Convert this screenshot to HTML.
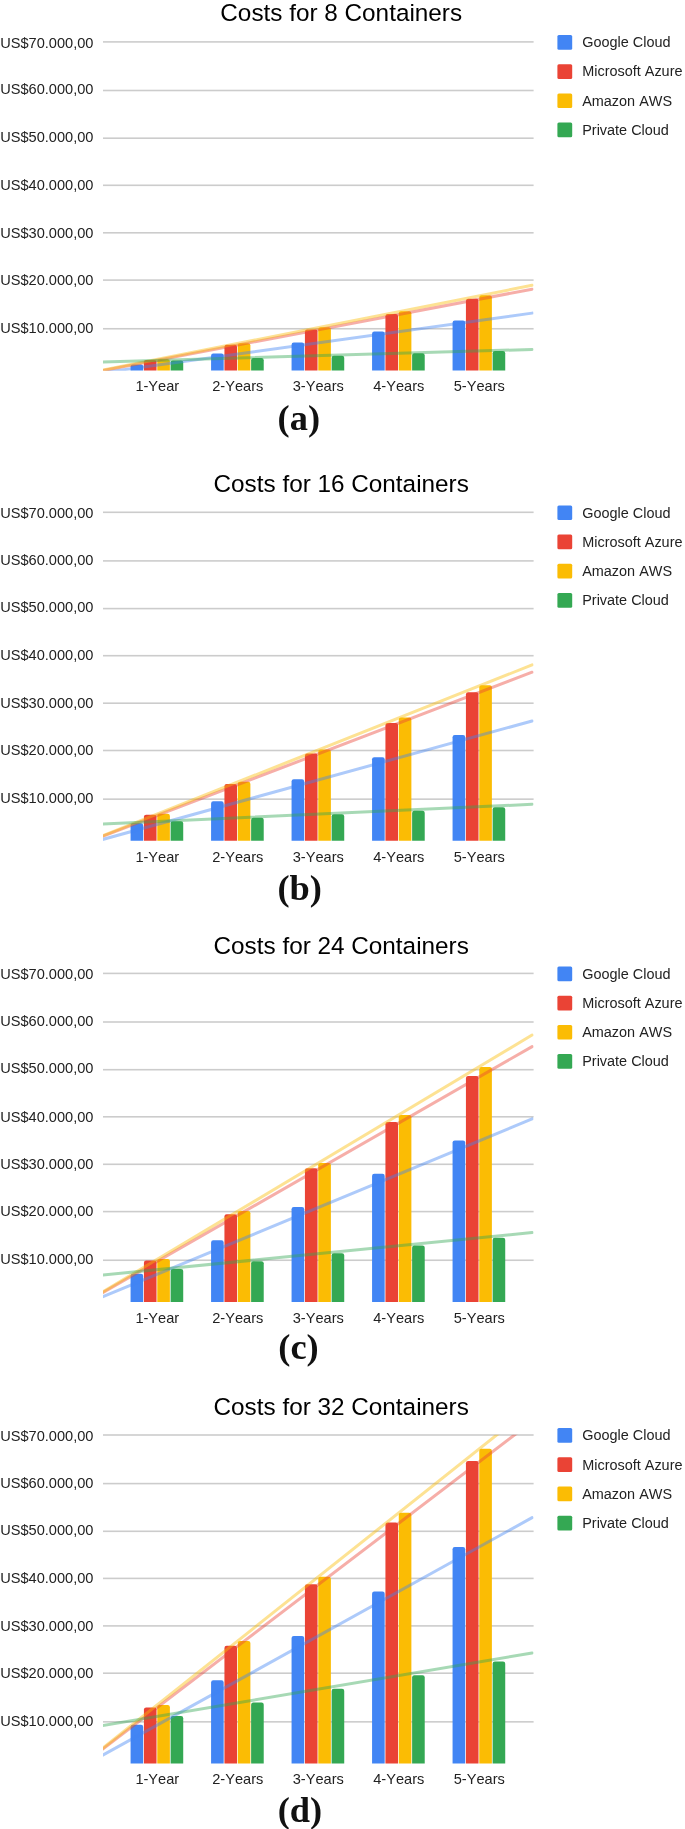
<!DOCTYPE html>
<html><head><meta charset="utf-8"><title>Costs</title>
<style>html,body{margin:0;padding:0;background:#fff;}svg{display:block;will-change:transform;}</style></head>
<body>
<svg width="685" height="1829" viewBox="0 0 685 1829" font-family="Liberation Sans, sans-serif" style="font-kerning:none">
<rect width="685" height="1829" fill="#fff"/>
<defs>
<clipPath id="cp0"><rect x="103.0" y="41.70" width="430.60" height="329.10"/></clipPath>
<clipPath id="cp1"><rect x="103.0" y="512.10" width="430.60" height="329.10"/></clipPath>
<clipPath id="cp2"><rect x="103.0" y="973.20" width="430.60" height="329.10"/></clipPath>
<clipPath id="cp3"><rect x="103.0" y="1434.80" width="430.60" height="329.10"/></clipPath>
</defs>
<g id="chart0">
<text x="341.2" y="21.30" font-size="24.3" text-anchor="middle" fill="#000">Costs for 8 Containers</text>
<rect x="103.0" y="41.10" width="430.60" height="1.6" fill="#cccccc"/>
<text x="93.5" y="47.55" font-size="14.6" text-anchor="end" fill="#222">US$70.000,00</text>
<rect x="103.0" y="89.70" width="430.60" height="1.6" fill="#cccccc"/>
<text x="93.5" y="94.44" font-size="14.6" text-anchor="end" fill="#222">US$60.000,00</text>
<rect x="103.0" y="137.40" width="430.60" height="1.6" fill="#cccccc"/>
<text x="93.5" y="141.80" font-size="14.6" text-anchor="end" fill="#222">US$50.000,00</text>
<rect x="103.0" y="184.50" width="430.60" height="1.6" fill="#cccccc"/>
<text x="93.5" y="190.00" font-size="14.6" text-anchor="end" fill="#222">US$40.000,00</text>
<rect x="103.0" y="232.00" width="430.60" height="1.6" fill="#cccccc"/>
<text x="93.5" y="237.55" font-size="14.6" text-anchor="end" fill="#222">US$30.000,00</text>
<rect x="103.0" y="279.30" width="430.60" height="1.6" fill="#cccccc"/>
<text x="93.5" y="284.85" font-size="14.6" text-anchor="end" fill="#222">US$20.000,00</text>
<rect x="103.0" y="327.95" width="430.60" height="1.6" fill="#cccccc"/>
<text x="93.5" y="332.97" font-size="14.6" text-anchor="end" fill="#222">US$10.000,00</text>
<path d="M130.58,370.40V366.61Q130.58,364.41 132.78,364.41H140.98Q143.18,364.41 143.18,366.61V370.40Z" fill="#4285F4"/>
<path d="M143.93,370.40V362.27Q143.93,360.07 146.12,360.07H154.33Q156.53,360.07 156.53,362.27V370.40Z" fill="#EA4335"/>
<path d="M157.28,370.40V361.55Q157.28,359.35 159.47,359.35H167.68Q169.88,359.35 169.88,361.55V370.40Z" fill="#FBBC04"/>
<path d="M170.62,370.40V362.60Q170.62,360.40 172.82,360.40H181.03Q183.22,360.40 183.22,362.60V370.40Z" fill="#34A853"/>
<text x="157.30" y="390.90" font-size="14.6" text-anchor="middle" fill="#222">1-Year</text>
<path d="M211.08,370.40V355.63Q211.08,353.43 213.28,353.43H221.48Q223.68,353.43 223.68,355.63V370.40Z" fill="#4285F4"/>
<path d="M224.43,370.40V346.95Q224.43,344.75 226.62,344.75H234.83Q237.03,344.75 237.03,346.95V370.40Z" fill="#EA4335"/>
<path d="M237.78,370.40V345.52Q237.78,343.32 239.97,343.32H248.18Q250.38,343.32 250.38,345.52V370.40Z" fill="#FBBC04"/>
<path d="M251.12,370.40V360.25Q251.12,358.05 253.32,358.05H261.53Q263.73,358.05 263.73,360.25V370.40Z" fill="#34A853"/>
<text x="237.80" y="390.90" font-size="14.6" text-anchor="middle" fill="#222">2-Years</text>
<path d="M291.57,370.40V344.65Q291.57,342.45 293.77,342.45H301.98Q304.18,342.45 304.18,344.65V370.40Z" fill="#4285F4"/>
<path d="M304.93,370.40V331.63Q304.93,329.43 307.12,329.43H315.33Q317.53,329.43 317.53,331.63V370.40Z" fill="#EA4335"/>
<path d="M318.27,370.40V329.48Q318.27,327.28 320.47,327.28H328.68Q330.88,327.28 330.88,329.48V370.40Z" fill="#FBBC04"/>
<path d="M331.62,370.40V357.90Q331.62,355.70 333.82,355.70H342.03Q344.23,355.70 344.23,357.90V370.40Z" fill="#34A853"/>
<text x="318.30" y="390.90" font-size="14.6" text-anchor="middle" fill="#222">3-Years</text>
<path d="M372.07,370.40V333.67Q372.07,331.47 374.27,331.47H382.48Q384.68,331.47 384.68,333.67V370.40Z" fill="#4285F4"/>
<path d="M385.43,370.40V316.31Q385.43,314.11 387.62,314.11H395.83Q398.03,314.11 398.03,316.31V370.40Z" fill="#EA4335"/>
<path d="M398.77,370.40V313.44Q398.77,311.24 400.97,311.24H409.18Q411.38,311.24 411.38,313.44V370.40Z" fill="#FBBC04"/>
<path d="M412.12,370.40V355.55Q412.12,353.35 414.32,353.35H422.53Q424.73,353.35 424.73,355.55V370.40Z" fill="#34A853"/>
<text x="398.80" y="390.90" font-size="14.6" text-anchor="middle" fill="#222">4-Years</text>
<path d="M452.57,370.40V322.69Q452.57,320.49 454.77,320.49H462.98Q465.18,320.49 465.18,322.69V370.40Z" fill="#4285F4"/>
<path d="M465.93,370.40V300.99Q465.93,298.79 468.12,298.79H476.33Q478.53,298.79 478.53,300.99V370.40Z" fill="#EA4335"/>
<path d="M479.27,370.40V297.41Q479.27,295.21 481.47,295.21H489.68Q491.88,295.21 491.88,297.41V370.40Z" fill="#FBBC04"/>
<path d="M492.62,370.40V353.19Q492.62,350.99 494.82,350.99H503.03Q505.23,350.99 505.23,353.19V370.40Z" fill="#34A853"/>
<text x="479.30" y="390.90" font-size="14.6" text-anchor="middle" fill="#222">5-Years</text>
<g clip-path="url(#cp0)">
<line x1="97.0" y1="373.44" x2="532.1" y2="313.12" stroke="#4285F4" stroke-width="3.0" stroke-opacity="0.43" stroke-linecap="round"/>
<line x1="97.0" y1="371.68" x2="532.1" y2="289.18" stroke="#EA4335" stroke-width="3.0" stroke-opacity="0.43" stroke-linecap="round"/>
<line x1="97.0" y1="371.32" x2="532.1" y2="285.29" stroke="#FBBC04" stroke-width="3.0" stroke-opacity="0.43" stroke-linecap="round"/>
<line x1="97.0" y1="362.15" x2="532.1" y2="349.44" stroke="#34A853" stroke-width="3.0" stroke-opacity="0.43" stroke-linecap="round"/>
</g>
<rect x="557.4" y="35.00" width="14.8" height="14.7" rx="1.5" fill="#4285F4"/>
<text x="582.2" y="47.20" font-size="14.45" fill="#222">Google Cloud</text>
<rect x="557.4" y="64.20" width="14.8" height="14.7" rx="1.5" fill="#EA4335"/>
<text x="582.2" y="76.40" font-size="14.45" fill="#222">Microsoft Azure</text>
<rect x="557.4" y="93.40" width="14.8" height="14.7" rx="1.5" fill="#FBBC04"/>
<text x="582.2" y="105.60" font-size="14.45" fill="#222">Amazon AWS</text>
<rect x="557.4" y="122.60" width="14.8" height="14.7" rx="1.5" fill="#34A853"/>
<text x="582.2" y="134.80" font-size="14.45" fill="#222">Private Cloud</text>
<text x="298.8" y="430.10" font-size="36.4" font-weight="bold" font-family="Liberation Serif, serif" text-anchor="middle" fill="#111">(a)</text>
</g>
<g id="chart1">
<text x="341.2" y="491.90" font-size="24.3" text-anchor="middle" fill="#000">Costs for 16 Containers</text>
<rect x="103.0" y="511.50" width="430.60" height="1.6" fill="#cccccc"/>
<text x="93.5" y="517.95" font-size="14.6" text-anchor="end" fill="#222">US$70.000,00</text>
<rect x="103.0" y="560.10" width="430.60" height="1.6" fill="#cccccc"/>
<text x="93.5" y="564.84" font-size="14.6" text-anchor="end" fill="#222">US$60.000,00</text>
<rect x="103.0" y="607.80" width="430.60" height="1.6" fill="#cccccc"/>
<text x="93.5" y="612.20" font-size="14.6" text-anchor="end" fill="#222">US$50.000,00</text>
<rect x="103.0" y="654.90" width="430.60" height="1.6" fill="#cccccc"/>
<text x="93.5" y="660.40" font-size="14.6" text-anchor="end" fill="#222">US$40.000,00</text>
<rect x="103.0" y="702.40" width="430.60" height="1.6" fill="#cccccc"/>
<text x="93.5" y="707.95" font-size="14.6" text-anchor="end" fill="#222">US$30.000,00</text>
<rect x="103.0" y="749.70" width="430.60" height="1.6" fill="#cccccc"/>
<text x="93.5" y="755.25" font-size="14.6" text-anchor="end" fill="#222">US$20.000,00</text>
<rect x="103.0" y="798.35" width="430.60" height="1.6" fill="#cccccc"/>
<text x="93.5" y="803.37" font-size="14.6" text-anchor="end" fill="#222">US$10.000,00</text>
<path d="M130.58,840.80V825.56Q130.58,823.36 132.78,823.36H140.98Q143.18,823.36 143.18,825.56V840.80Z" fill="#4285F4"/>
<path d="M143.93,840.80V816.87Q143.93,814.67 146.12,814.67H154.33Q156.53,814.67 156.53,816.87V840.80Z" fill="#EA4335"/>
<path d="M157.28,840.80V816.06Q157.28,813.86 159.47,813.86H167.68Q169.88,813.86 169.88,816.06V840.80Z" fill="#FBBC04"/>
<path d="M170.62,840.80V823.49Q170.62,821.29 172.82,821.29H181.03Q183.22,821.29 183.22,823.49V840.80Z" fill="#34A853"/>
<text x="157.30" y="862.40" font-size="14.6" text-anchor="middle" fill="#222">1-Year</text>
<path d="M211.08,840.80V803.49Q211.08,801.29 213.28,801.29H221.48Q223.68,801.29 223.68,803.49V840.80Z" fill="#4285F4"/>
<path d="M224.43,840.80V786.28Q224.43,784.08 226.62,784.08H234.83Q237.03,784.08 237.03,786.28V840.80Z" fill="#EA4335"/>
<path d="M237.78,840.80V783.94Q237.78,781.74 239.97,781.74H248.18Q250.38,781.74 250.38,783.94V840.80Z" fill="#FBBC04"/>
<path d="M251.12,840.80V819.98Q251.12,817.78 253.32,817.78H261.53Q263.73,817.78 263.73,819.98V840.80Z" fill="#34A853"/>
<text x="237.80" y="862.40" font-size="14.6" text-anchor="middle" fill="#222">2-Years</text>
<path d="M291.57,840.80V781.43Q291.57,779.23 293.77,779.23H301.98Q304.18,779.23 304.18,781.43V840.80Z" fill="#4285F4"/>
<path d="M304.93,840.80V755.69Q304.93,753.49 307.12,753.49H315.33Q317.53,753.49 317.53,755.69V840.80Z" fill="#EA4335"/>
<path d="M318.27,840.80V751.81Q318.27,749.61 320.47,749.61H328.68Q330.88,749.61 330.88,751.81V840.80Z" fill="#FBBC04"/>
<path d="M331.62,840.80V816.47Q331.62,814.27 333.82,814.27H342.03Q344.23,814.27 344.23,816.47V840.80Z" fill="#34A853"/>
<text x="318.30" y="862.40" font-size="14.6" text-anchor="middle" fill="#222">3-Years</text>
<path d="M372.07,840.80V759.37Q372.07,757.17 374.27,757.17H382.48Q384.68,757.17 384.68,759.37V840.80Z" fill="#4285F4"/>
<path d="M385.43,840.80V725.10Q385.43,722.90 387.62,722.90H395.83Q398.03,722.90 398.03,725.10V840.80Z" fill="#EA4335"/>
<path d="M398.77,840.80V719.69Q398.77,717.49 400.97,717.49H409.18Q411.38,717.49 411.38,719.69V840.80Z" fill="#FBBC04"/>
<path d="M412.12,840.80V812.95Q412.12,810.75 414.32,810.75H422.53Q424.73,810.75 424.73,812.95V840.80Z" fill="#34A853"/>
<text x="398.80" y="862.40" font-size="14.6" text-anchor="middle" fill="#222">4-Years</text>
<path d="M452.57,840.80V737.30Q452.57,735.10 454.77,735.10H462.98Q465.18,735.10 465.18,737.30V840.80Z" fill="#4285F4"/>
<path d="M465.93,840.80V694.51Q465.93,692.31 468.12,692.31H476.33Q478.53,692.31 478.53,694.51V840.80Z" fill="#EA4335"/>
<path d="M479.27,840.80V687.57Q479.27,685.37 481.47,685.37H489.68Q491.88,685.37 491.88,687.57V840.80Z" fill="#FBBC04"/>
<path d="M492.62,840.80V809.44Q492.62,807.24 494.82,807.24H503.03Q505.23,807.24 505.23,809.44V840.80Z" fill="#34A853"/>
<text x="479.30" y="862.40" font-size="14.6" text-anchor="middle" fill="#222">5-Years</text>
<g clip-path="url(#cp1)">
<line x1="97.0" y1="840.98" x2="532.1" y2="720.95" stroke="#4285F4" stroke-width="3.0" stroke-opacity="0.43" stroke-linecap="round"/>
<line x1="97.0" y1="838.34" x2="532.1" y2="672.22" stroke="#EA4335" stroke-width="3.0" stroke-opacity="0.43" stroke-linecap="round"/>
<line x1="97.0" y1="837.96" x2="532.1" y2="664.91" stroke="#FBBC04" stroke-width="3.0" stroke-opacity="0.43" stroke-linecap="round"/>
<line x1="97.0" y1="824.34" x2="532.1" y2="804.29" stroke="#34A853" stroke-width="3.0" stroke-opacity="0.43" stroke-linecap="round"/>
</g>
<rect x="557.4" y="505.40" width="14.8" height="14.7" rx="1.5" fill="#4285F4"/>
<text x="582.2" y="517.60" font-size="14.45" fill="#222">Google Cloud</text>
<rect x="557.4" y="534.60" width="14.8" height="14.7" rx="1.5" fill="#EA4335"/>
<text x="582.2" y="546.80" font-size="14.45" fill="#222">Microsoft Azure</text>
<rect x="557.4" y="563.80" width="14.8" height="14.7" rx="1.5" fill="#FBBC04"/>
<text x="582.2" y="576.00" font-size="14.45" fill="#222">Amazon AWS</text>
<rect x="557.4" y="593.00" width="14.8" height="14.7" rx="1.5" fill="#34A853"/>
<text x="582.2" y="605.20" font-size="14.45" fill="#222">Private Cloud</text>
<text x="299.7" y="900.10" font-size="36.4" font-weight="bold" font-family="Liberation Serif, serif" text-anchor="middle" fill="#111">(b)</text>
</g>
<g id="chart2">
<text x="341.2" y="953.60" font-size="24.3" text-anchor="middle" fill="#000">Costs for 24 Containers</text>
<rect x="103.0" y="972.60" width="430.60" height="1.6" fill="#cccccc"/>
<text x="93.5" y="979.05" font-size="14.6" text-anchor="end" fill="#222">US$70.000,00</text>
<rect x="103.0" y="1021.20" width="430.60" height="1.6" fill="#cccccc"/>
<text x="93.5" y="1025.94" font-size="14.6" text-anchor="end" fill="#222">US$60.000,00</text>
<rect x="103.0" y="1068.90" width="430.60" height="1.6" fill="#cccccc"/>
<text x="93.5" y="1073.30" font-size="14.6" text-anchor="end" fill="#222">US$50.000,00</text>
<rect x="103.0" y="1116.00" width="430.60" height="1.6" fill="#cccccc"/>
<text x="93.5" y="1121.50" font-size="14.6" text-anchor="end" fill="#222">US$40.000,00</text>
<rect x="103.0" y="1163.50" width="430.60" height="1.6" fill="#cccccc"/>
<text x="93.5" y="1169.05" font-size="14.6" text-anchor="end" fill="#222">US$30.000,00</text>
<rect x="103.0" y="1210.80" width="430.60" height="1.6" fill="#cccccc"/>
<text x="93.5" y="1216.35" font-size="14.6" text-anchor="end" fill="#222">US$20.000,00</text>
<rect x="103.0" y="1259.45" width="430.60" height="1.6" fill="#cccccc"/>
<text x="93.5" y="1264.47" font-size="14.6" text-anchor="end" fill="#222">US$10.000,00</text>
<path d="M130.58,1301.90V1275.90Q130.58,1273.70 132.78,1273.70H140.98Q143.18,1273.70 143.18,1275.90V1301.90Z" fill="#4285F4"/>
<path d="M143.93,1301.90V1262.69Q143.93,1260.49 146.12,1260.49H154.33Q156.53,1260.49 156.53,1262.69V1301.90Z" fill="#EA4335"/>
<path d="M157.28,1301.90V1261.15Q157.28,1258.95 159.47,1258.95H167.68Q169.88,1258.95 169.88,1261.15V1301.90Z" fill="#FBBC04"/>
<path d="M170.62,1301.90V1271.11Q170.62,1268.91 172.82,1268.91H181.03Q183.22,1268.91 183.22,1271.11V1301.90Z" fill="#34A853"/>
<text x="157.30" y="1322.70" font-size="14.6" text-anchor="middle" fill="#222">1-Year</text>
<path d="M211.08,1301.90V1242.57Q211.08,1240.37 213.28,1240.37H221.48Q223.68,1240.37 223.68,1242.57V1301.90Z" fill="#4285F4"/>
<path d="M224.43,1301.90V1216.54Q224.43,1214.34 226.62,1214.34H234.83Q237.03,1214.34 237.03,1216.54V1301.90Z" fill="#EA4335"/>
<path d="M237.78,1301.90V1213.16Q237.78,1210.96 239.97,1210.96H248.18Q250.38,1210.96 250.38,1213.16V1301.90Z" fill="#FBBC04"/>
<path d="M251.12,1301.90V1263.33Q251.12,1261.13 253.32,1261.13H261.53Q263.73,1261.13 263.73,1263.33V1301.90Z" fill="#34A853"/>
<text x="237.80" y="1322.70" font-size="14.6" text-anchor="middle" fill="#222">2-Years</text>
<path d="M291.57,1301.90V1209.24Q291.57,1207.04 293.77,1207.04H301.98Q304.18,1207.04 304.18,1209.24V1301.90Z" fill="#4285F4"/>
<path d="M304.93,1301.90V1170.40Q304.93,1168.20 307.12,1168.20H315.33Q317.53,1168.20 317.53,1170.40V1301.90Z" fill="#EA4335"/>
<path d="M318.27,1301.90V1165.16Q318.27,1162.96 320.47,1162.96H328.68Q330.88,1162.96 330.88,1165.16V1301.90Z" fill="#FBBC04"/>
<path d="M331.62,1301.90V1255.54Q331.62,1253.34 333.82,1253.34H342.03Q344.23,1253.34 344.23,1255.54V1301.90Z" fill="#34A853"/>
<text x="318.30" y="1322.70" font-size="14.6" text-anchor="middle" fill="#222">3-Years</text>
<path d="M372.07,1301.90V1175.91Q372.07,1173.71 374.27,1173.71H382.48Q384.68,1173.71 384.68,1175.91V1301.90Z" fill="#4285F4"/>
<path d="M385.43,1301.90V1124.25Q385.43,1122.05 387.62,1122.05H395.83Q398.03,1122.05 398.03,1124.25V1301.90Z" fill="#EA4335"/>
<path d="M398.77,1301.90V1117.17Q398.77,1114.97 400.97,1114.97H409.18Q411.38,1114.97 411.38,1117.17V1301.90Z" fill="#FBBC04"/>
<path d="M412.12,1301.90V1247.75Q412.12,1245.55 414.32,1245.55H422.53Q424.73,1245.55 424.73,1247.75V1301.90Z" fill="#34A853"/>
<text x="398.80" y="1322.70" font-size="14.6" text-anchor="middle" fill="#222">4-Years</text>
<path d="M452.57,1301.90V1142.58Q452.57,1140.38 454.77,1140.38H462.98Q465.18,1140.38 465.18,1142.58V1301.90Z" fill="#4285F4"/>
<path d="M465.93,1301.90V1078.10Q465.93,1075.90 468.12,1075.90H476.33Q478.53,1075.90 478.53,1078.10V1301.90Z" fill="#EA4335"/>
<path d="M479.27,1301.90V1069.17Q479.27,1066.97 481.47,1066.97H489.68Q491.88,1066.97 491.88,1069.17V1301.90Z" fill="#FBBC04"/>
<path d="M492.62,1301.90V1239.97Q492.62,1237.77 494.82,1237.77H503.03Q505.23,1237.77 505.23,1239.97V1301.90Z" fill="#34A853"/>
<text x="479.30" y="1322.70" font-size="14.6" text-anchor="middle" fill="#222">5-Years</text>
<g clip-path="url(#cp2)">
<line x1="97.0" y1="1299.22" x2="532.1" y2="1118.86" stroke="#4285F4" stroke-width="3.0" stroke-opacity="0.43" stroke-linecap="round"/>
<line x1="97.0" y1="1295.87" x2="532.1" y2="1046.58" stroke="#EA4335" stroke-width="3.0" stroke-opacity="0.43" stroke-linecap="round"/>
<line x1="97.0" y1="1295.31" x2="532.1" y2="1035.01" stroke="#FBBC04" stroke-width="3.0" stroke-opacity="0.43" stroke-linecap="round"/>
<line x1="97.0" y1="1275.60" x2="532.1" y2="1232.56" stroke="#34A853" stroke-width="3.0" stroke-opacity="0.43" stroke-linecap="round"/>
</g>
<rect x="557.4" y="966.50" width="14.8" height="14.7" rx="1.5" fill="#4285F4"/>
<text x="582.2" y="978.70" font-size="14.45" fill="#222">Google Cloud</text>
<rect x="557.4" y="995.70" width="14.8" height="14.7" rx="1.5" fill="#EA4335"/>
<text x="582.2" y="1007.90" font-size="14.45" fill="#222">Microsoft Azure</text>
<rect x="557.4" y="1024.90" width="14.8" height="14.7" rx="1.5" fill="#FBBC04"/>
<text x="582.2" y="1037.10" font-size="14.45" fill="#222">Amazon AWS</text>
<rect x="557.4" y="1054.10" width="14.8" height="14.7" rx="1.5" fill="#34A853"/>
<text x="582.2" y="1066.30" font-size="14.45" fill="#222">Private Cloud</text>
<text x="298.5" y="1359.40" font-size="36.4" font-weight="bold" font-family="Liberation Serif, serif" text-anchor="middle" fill="#111">(c)</text>
</g>
<g id="chart3">
<text x="341.2" y="1414.60" font-size="24.3" text-anchor="middle" fill="#000">Costs for 32 Containers</text>
<rect x="103.0" y="1434.20" width="430.60" height="1.6" fill="#cccccc"/>
<text x="93.5" y="1440.65" font-size="14.6" text-anchor="end" fill="#222">US$70.000,00</text>
<rect x="103.0" y="1482.80" width="430.60" height="1.6" fill="#cccccc"/>
<text x="93.5" y="1487.54" font-size="14.6" text-anchor="end" fill="#222">US$60.000,00</text>
<rect x="103.0" y="1530.50" width="430.60" height="1.6" fill="#cccccc"/>
<text x="93.5" y="1534.90" font-size="14.6" text-anchor="end" fill="#222">US$50.000,00</text>
<rect x="103.0" y="1577.60" width="430.60" height="1.6" fill="#cccccc"/>
<text x="93.5" y="1583.10" font-size="14.6" text-anchor="end" fill="#222">US$40.000,00</text>
<rect x="103.0" y="1625.10" width="430.60" height="1.6" fill="#cccccc"/>
<text x="93.5" y="1630.65" font-size="14.6" text-anchor="end" fill="#222">US$30.000,00</text>
<rect x="103.0" y="1672.40" width="430.60" height="1.6" fill="#cccccc"/>
<text x="93.5" y="1677.95" font-size="14.6" text-anchor="end" fill="#222">US$20.000,00</text>
<rect x="103.0" y="1721.05" width="430.60" height="1.6" fill="#cccccc"/>
<text x="93.5" y="1726.07" font-size="14.6" text-anchor="end" fill="#222">US$10.000,00</text>
<path d="M130.58,1763.50V1726.96Q130.58,1724.76 132.78,1724.76H140.98Q143.18,1724.76 143.18,1726.96V1763.50Z" fill="#4285F4"/>
<path d="M143.93,1763.50V1709.60Q143.93,1707.40 146.12,1707.40H154.33Q156.53,1707.40 156.53,1709.60V1763.50Z" fill="#EA4335"/>
<path d="M157.28,1763.50V1707.13Q157.28,1704.93 159.47,1704.93H167.68Q169.88,1704.93 169.88,1707.13V1763.50Z" fill="#FBBC04"/>
<path d="M170.62,1763.50V1718.30Q170.62,1716.10 172.82,1716.10H181.03Q183.22,1716.10 183.22,1718.30V1763.50Z" fill="#34A853"/>
<text x="157.30" y="1784.40" font-size="14.6" text-anchor="middle" fill="#222">1-Year</text>
<path d="M211.08,1763.50V1682.52Q211.08,1680.32 213.28,1680.32H221.48Q223.68,1680.32 223.68,1682.52V1763.50Z" fill="#4285F4"/>
<path d="M224.43,1763.50V1648.00Q224.43,1645.80 226.62,1645.80H234.83Q237.03,1645.80 237.03,1648.00V1763.50Z" fill="#EA4335"/>
<path d="M237.78,1763.50V1643.08Q237.78,1640.88 239.97,1640.88H248.18Q250.38,1640.88 250.38,1643.08V1763.50Z" fill="#FBBC04"/>
<path d="M251.12,1763.50V1704.68Q251.12,1702.48 253.32,1702.48H261.53Q263.73,1702.48 263.73,1704.68V1763.50Z" fill="#34A853"/>
<text x="237.80" y="1784.40" font-size="14.6" text-anchor="middle" fill="#222">2-Years</text>
<path d="M291.57,1763.50V1638.08Q291.57,1635.88 293.77,1635.88H301.98Q304.18,1635.88 304.18,1638.08V1763.50Z" fill="#4285F4"/>
<path d="M304.93,1763.50V1586.41Q304.93,1584.21 307.12,1584.21H315.33Q317.53,1584.21 317.53,1586.41V1763.50Z" fill="#EA4335"/>
<path d="M318.27,1763.50V1579.02Q318.27,1576.82 320.47,1576.82H328.68Q330.88,1576.82 330.88,1579.02V1763.50Z" fill="#FBBC04"/>
<path d="M331.62,1763.50V1691.06Q331.62,1688.86 333.82,1688.86H342.03Q344.23,1688.86 344.23,1691.06V1763.50Z" fill="#34A853"/>
<text x="318.30" y="1784.40" font-size="14.6" text-anchor="middle" fill="#222">3-Years</text>
<path d="M372.07,1763.50V1593.64Q372.07,1591.44 374.27,1591.44H382.48Q384.68,1591.44 384.68,1593.64V1763.50Z" fill="#4285F4"/>
<path d="M385.43,1763.50V1524.81Q385.43,1522.61 387.62,1522.61H395.83Q398.03,1522.61 398.03,1524.81V1763.50Z" fill="#EA4335"/>
<path d="M398.77,1763.50V1514.96Q398.77,1512.76 400.97,1512.76H409.18Q411.38,1512.76 411.38,1514.96V1763.50Z" fill="#FBBC04"/>
<path d="M412.12,1763.50V1677.43Q412.12,1675.23 414.32,1675.23H422.53Q424.73,1675.23 424.73,1677.43V1763.50Z" fill="#34A853"/>
<text x="398.80" y="1784.40" font-size="14.6" text-anchor="middle" fill="#222">4-Years</text>
<path d="M452.57,1763.50V1549.20Q452.57,1547.00 454.77,1547.00H462.98Q465.18,1547.00 465.18,1549.20V1763.50Z" fill="#4285F4"/>
<path d="M465.93,1763.50V1463.22Q465.93,1461.02 468.12,1461.02H476.33Q478.53,1461.02 478.53,1463.22V1763.50Z" fill="#EA4335"/>
<path d="M479.27,1763.50V1450.91Q479.27,1448.71 481.47,1448.71H489.68Q491.88,1448.71 491.88,1450.91V1763.50Z" fill="#FBBC04"/>
<path d="M492.62,1763.50V1663.81Q492.62,1661.61 494.82,1661.61H503.03Q505.23,1661.61 505.23,1663.81V1763.50Z" fill="#34A853"/>
<text x="479.30" y="1784.40" font-size="14.6" text-anchor="middle" fill="#222">5-Years</text>
<g clip-path="url(#cp3)">
<line x1="97.0" y1="1758.37" x2="532.1" y2="1517.68" stroke="#4285F4" stroke-width="3.0" stroke-opacity="0.43" stroke-linecap="round"/>
<line x1="97.0" y1="1753.48" x2="532.1" y2="1421.55" stroke="#EA4335" stroke-width="3.0" stroke-opacity="0.43" stroke-linecap="round"/>
<line x1="97.0" y1="1752.73" x2="532.1" y2="1406.84" stroke="#FBBC04" stroke-width="3.0" stroke-opacity="0.43" stroke-linecap="round"/>
<line x1="97.0" y1="1726.57" x2="532.1" y2="1652.94" stroke="#34A853" stroke-width="3.0" stroke-opacity="0.43" stroke-linecap="round"/>
</g>
<rect x="557.4" y="1428.10" width="14.8" height="14.7" rx="1.5" fill="#4285F4"/>
<text x="582.2" y="1440.30" font-size="14.45" fill="#222">Google Cloud</text>
<rect x="557.4" y="1457.30" width="14.8" height="14.7" rx="1.5" fill="#EA4335"/>
<text x="582.2" y="1469.50" font-size="14.45" fill="#222">Microsoft Azure</text>
<rect x="557.4" y="1486.50" width="14.8" height="14.7" rx="1.5" fill="#FBBC04"/>
<text x="582.2" y="1498.70" font-size="14.45" fill="#222">Amazon AWS</text>
<rect x="557.4" y="1515.70" width="14.8" height="14.7" rx="1.5" fill="#34A853"/>
<text x="582.2" y="1527.90" font-size="14.45" fill="#222">Private Cloud</text>
<text x="299.9" y="1821.90" font-size="36.4" font-weight="bold" font-family="Liberation Serif, serif" text-anchor="middle" fill="#111">(d)</text>
</g>
</svg>
</body></html>
